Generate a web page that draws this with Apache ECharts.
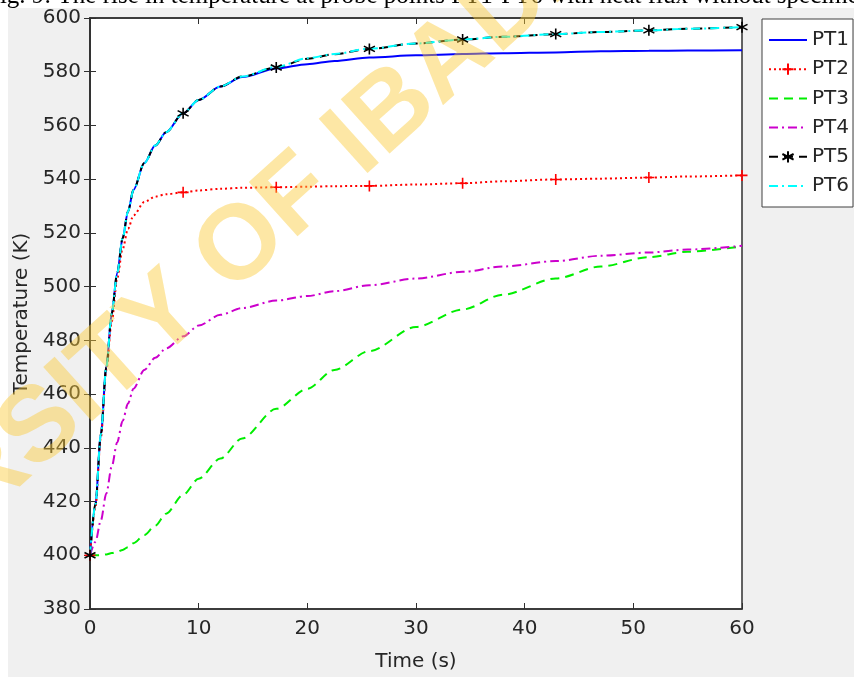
<!DOCTYPE html>
<html>
<head>
<meta charset="utf-8">
<title>Temperature at probe points</title>
<script src="https://cdn.jsdelivr.net/npm/echarts@6/dist/echarts.min.js"></script>
<style>
    html, body { margin: 0; padding: 0; background: #fff; }
    #chart { width: 854px; height: 677px; }
</style>
</head>
<body>
<div id="chart"></div>
<script>
// time samples (s)
var times = [0, 0.5, 1, 1.5, 2, 2.5, 3, 3.5, 4, 5, 6, 7, 8.57, 10, 12, 14, 17.14, 20, 22.5, 25.71, 30, 34.29, 38, 42.86, 47, 51.43, 55, 60];
// marker positions for PT2 and PT5
var markerTimes = [0, 8.57, 17.14, 25.71, 34.29, 42.86, 51.43, 60];
var xTicks = [0, 10, 20, 30, 40, 50, 60];
var yTicks = [380, 400, 420, 440, 460, 480, 500, 520, 540, 560, 580, 600];

/*temperatures (K)*/
var pt1 = [400, 419, 445, 470, 490, 505, 518, 528, 536, 546, 552.5, 557.5, 564.5, 569.5, 574.5, 578, 581.2, 582.8, 584, 585.3, 586.1, 586.6, 586.9, 587.2, 587.6, 587.8, 587.9, 588];
var pt2 = [400, 418, 444, 469, 487, 503, 514, 521.5, 526.5, 531.5, 533.5, 534.4, 535.1, 535.8, 536.4, 536.8, 537, 537.2, 537.4, 537.5, 538, 538.5, 539.2, 539.9, 540.2, 540.6, 541, 541.4];
var pt3 = [400, 400, 400, 400.3, 400.8, 401.3, 402, 403, 404.5, 407.5, 411, 415.5, 422.5, 428.5, 436, 443.5, 454.5, 462, 469, 476, 485, 491.5, 497, 503, 507.5, 511, 513, 515];
var pt4 = [400, 405, 413, 423, 433, 442, 450, 456.5, 462, 469, 473.5, 477, 481.5, 485.5, 489.5, 492, 494.8, 496.5, 498.3, 500.5, 503, 505.5, 507.5, 509.5, 511.5, 512.7, 513.8, 515.2];
var pt5 = [400, 419, 445, 470, 490, 505, 518, 528, 536, 546, 552.5, 557.5, 564.5, 569.5, 574.5, 578.2, 581.6, 584.8, 586.5, 588.5, 590.5, 592, 593, 594, 594.8, 595.4, 596, 596.6];
var pt6 = [400, 419, 445, 470, 490, 505, 518, 528, 536, 546, 552.5, 557.5, 564.5, 569.5, 574.5, 578.2, 581.8, 585, 586.6, 588.6, 590.5, 592, 593, 594, 594.8, 595.4, 596, 596.6];

var plusPath = 'path://M5,0L5,10M0,5L10,5';
var starPath = 'path://M5,0L5,10M0.7,2.5L9.3,7.5M9.3,2.5L0.7,7.5';
var axisColor = '#303030';
var textColor = '#262626';

function buildData(values, marked) {
    return times.map(function (t, i) {
        var item = { value: [t, values[i]] };
        if (marked && markerTimes.indexOf(t) < 0) {
            item.symbol = 'none';
        }
        return item;
    });
}

function lineSeries(name, values, color, dash, symbol) {
    return {
        name: name,
        type: 'line',
        xAxisIndex: 0,
        yAxisIndex: 0,
        smooth: 0.3,
        smoothMonotone: 'x',
        symbol: symbol || 'none',
        symbolSize: 11,
        showAllSymbol: true,
        lineStyle: { color: color, width: 2, type: dash },
        itemStyle: { color: color, borderColor: color, borderWidth: 1.6 },
        emphasis: { disabled: true },
        data: buildData(values, !!symbol)
    };
}

var option = {
    backgroundColor: '#f0f0f0',
    animation: false,
    textStyle: { fontFamily: 'DejaVu Sans' },
    graphic: [
        { type: 'rect', shape: { x: 0, y: 0, width: 854, height: 8 }, style: { fill: '#fff' }, z: 1 },
        { type: 'rect', shape: { x: 0, y: 0, width: 8, height: 677 }, style: { fill: '#fff' }, z: 1 },
        {
            type: 'text', left: -14, top: -16, z: 2,
            style: {
                text: 'Fig. 9: The rise in temperature at probe points PT1-PT6 with heat flux without specimen',
                font: '25px "Liberation Serif"', fill: '#000'
            }
        },
        {
            type: 'text', x: 183, y: 300, z: 100,
            rotation: 42 * Math.PI / 180,
            style: {
                text: 'UNIVERSITY OF IBADAN',
                font: 'bold 106px "Liberation Sans"', fill: 'rgba(251,202,55,0.45)',
                align: 'center', verticalAlign: 'middle',
                textAlign: 'center', textVerticalAlign: 'middle'
            }
        }
    ],
    grid: {
        left: 90,
        right: 112,
        top: 18,
        bottom: 64.5,
        show: true,
        backgroundColor: '#fff',
        borderColor: axisColor,
        borderWidth: 1.5
    },
    legend: {
        orient: 'vertical',
        left: 762,
        top: 19,
        padding: [11, 4, 11, 6],
        itemWidth: 38,
        itemHeight: 14,
        itemGap: 9.2,
        backgroundColor: '#fff',
        borderColor: '#404040',
        borderWidth: 1,
        borderRadius: 0,
        textStyle: { color: textColor, fontSize: 20, lineHeight: 20, fontFamily: 'DejaVu Sans' },
        data: [
            { name: 'PT1', itemStyle: { opacity: 0 } },
            { name: 'PT2' },
            { name: 'PT3', itemStyle: { opacity: 0 } },
            { name: 'PT4', itemStyle: { opacity: 0 } },
            { name: 'PT5' },
            { name: 'PT6', itemStyle: { opacity: 0 } }
        ]
    },
    xAxis: [{
        type: 'value',
        min: xTicks[0],
        max: xTicks[xTicks.length - 1],
        interval: 10,
        name: 'Time (s)',
        nameLocation: 'middle',
        nameGap: 43,
        nameTextStyle: { color: textColor, fontSize: 20 },
        axisLine: { show: true, lineStyle: { color: axisColor, width: 1.5 } },
        axisTick: { show: true, inside: true, length: 6, lineStyle: { color: axisColor } },
        axisLabel: { color: textColor, fontSize: 20, margin: 10 },
        splitLine: { show: false }
    }, {
        type: 'value',
        position: 'top',
        min: xTicks[0],
        max: xTicks[xTicks.length - 1],
        interval: 10,
        axisLine: { show: true, lineStyle: { color: axisColor, width: 1.5 } },
        axisTick: { show: true, inside: true, length: 6, lineStyle: { color: axisColor } },
        axisLabel: { show: false },
        splitLine: { show: false }
    }],
    yAxis: [{
        type: 'value',
        min: yTicks[0],
        max: yTicks[yTicks.length - 1],
        interval: 20,
        name: 'Temperature (K)',
        nameLocation: 'middle',
        nameGap: 53,
        nameTextStyle: { color: textColor, fontSize: 20 },
        axisLine: { show: true, lineStyle: { color: axisColor, width: 1.5 } },
        axisTick: { show: true, inside: true, length: 6, lineStyle: { color: axisColor } },
        axisLabel: { color: textColor, fontSize: 20, margin: 9 },
        splitLine: { show: false }
    }, {
        type: 'value',
        position: 'right',
        min: yTicks[0],
        max: yTicks[yTicks.length - 1],
        interval: 20,
        axisLine: { show: true, lineStyle: { color: axisColor, width: 1.5 } },
        axisTick: { show: true, inside: true, length: 6, lineStyle: { color: axisColor } },
        axisLabel: { show: false },
        splitLine: { show: false }
    }],
    series: [
        lineSeries('PT1', pt1, '#0000ff', 'solid'),
        lineSeries('PT2', pt2, '#ff0000', [2, 3], plusPath),
        lineSeries('PT3', pt3, '#00ee00', [9, 6]),
        lineSeries('PT4', pt4, '#cc00cc', [9, 4, 2, 4]),
        lineSeries('PT5', pt5, '#000000', [9, 6], starPath),
        lineSeries('PT6', pt6, '#00ffff', [9, 4, 2, 4])
    ]
};

var chart = echarts.init(document.getElementById('chart'), null, { renderer: 'canvas' });
chart.setOption(option);
</script>
</body>
</html>
